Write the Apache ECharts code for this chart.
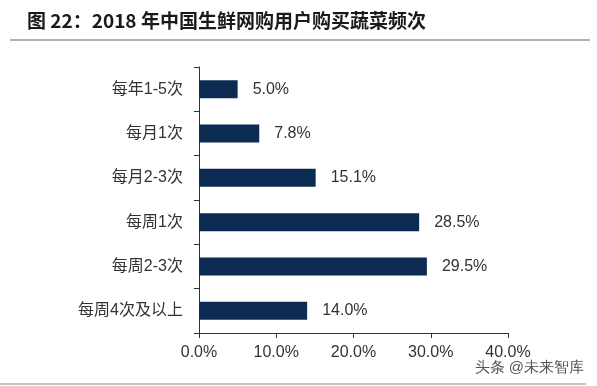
<!DOCTYPE html>
<html><head><meta charset="utf-8">
<script src="https://cdn.jsdelivr.net/npm/echarts@6/dist/echarts.min.js"></script>
<style>html,body{margin:0;padding:0;background:#fff}#c{width:597px;height:386px}</style>
</head><body><div id="c"></div>
<script>
const titleText = '图 22：2018 年中国生鲜网购用户购买蔬菜频次';
const categories = ['每年1-5次', '每月1次', '每月2-3次', '每周1次', '每周2-3次', '每周4次及以上'];
const values = [5.0, 7.8, 15.1, 28.5, 29.5, 14.0];
const xTicks = [0, 10, 20, 30, 40];
const watermark = '头条 @未来智库';

const chart = echarts.init(document.getElementById('c'));
const txt = '#333';
const fontF = 'Arial, "Liberation Sans", "Noto Sans CJK SC", sans-serif';
chart.setOption({
  animation: false,
  backgroundColor: '#fff',
  title: {
    text: titleText, left: 22, top: 6,
    textStyle: {fontSize: 19, fontWeight: 'bold', color: '#1a1a1a', fontFamily: '"Noto Sans CJK SC", sans-serif'}
  },
  grid: {left: 199, right: 89, top: 67, bottom: 53, containLabel: false},
  xAxis: {
    type: 'value', min: xTicks[0], max: xTicks[xTicks.length - 1], interval: 10,
    axisLine: {show: true, lineStyle: {color: '#333', width: 1}},
    axisTick: {show: true, length: 5, lineStyle: {color: '#333'}},
    splitLine: {show: false},
    axisLabel: {formatter: v => v.toFixed(1) + '%', fontSize: 16, color: txt, fontFamily: fontF, margin: 12}
  },
  yAxis: {
    type: 'category', data: categories, inverse: true,
    axisLine: {show: true, lineStyle: {color: '#333', width: 1}},
    axisTick: {show: true, length: 5, lineStyle: {color: '#333'}},
    axisLabel: {fontSize: 16, color: txt, fontFamily: fontF, margin: 16}
  },
  series: [{
    type: 'bar', data: values, barWidth: 18,
    itemStyle: {color: '#0c2b52'},
    label: {show: true, position: 'right', distance: 15, formatter: p => p.value.toFixed(1) + '%', fontSize: 16, color: txt, fontFamily: fontF}
  }],
  graphic: [
    {type: 'line', shape: {x1: 10, y1: 40, x2: 590, y2: 40}, style: {stroke: '#9a9a9a', lineWidth: 1.5}},
    {type: 'line', shape: {x1: 0, y1: 384, x2: 586, y2: 384}, style: {stroke: '#b0b0b0', lineWidth: 1.5}},
    {type: 'text', right: 12, top: 359, style: {text: watermark, fontSize: 15, fill: '#555', stroke: '#fff', lineWidth: 2, font: '15px "Noto Sans CJK SC", sans-serif'}}
  ]
});
</script></body></html>
